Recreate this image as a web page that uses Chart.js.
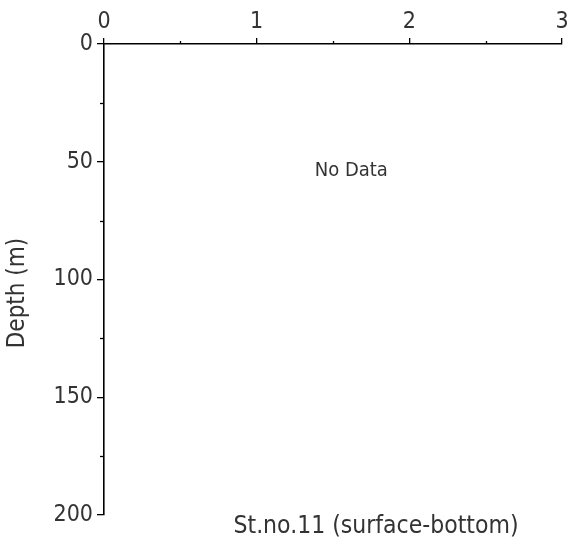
<!DOCTYPE html>
<html>
<head>
<meta charset="utf-8">
<script src="https://cdn.jsdelivr.net/npm/chart.js@4/dist/chart.umd.min.js"></script>
<style>
html,body{margin:0;padding:0;background:#fff;}
#wrap{width:571px;height:546px;position:relative;}
</style>
</head>
<body>
<div id="wrap"><canvas id="c" width="571" height="546"></canvas></div>
<script>
// Data (station has no observations)
const depthValues = [];       // depth (m)
const measuredValues = [];    // measured values
const xMajorTicks = [0, 1, 2, 3];
const xMinorTicks = [0.5, 1.5, 2.5];
const yMajorTicks = [0, 50, 100, 150, 200];
const yMinorTicks = [25, 75, 125, 175];
const stationTitle = 'St.no.11 (surface-bottom)';
const noDataText = 'No Data';
const yAxisTitle = 'Depth (m)';

const FONT = "'DejaVu Sans Condensed', 'DejaVu Sans', Tahoma, sans-serif";
const TXT = '#333333';

const points = measuredValues.map((v, i) => ({x: v, y: depthValues[i]}));

const extras = {
  id: 'extras',
  afterDraw(chart) {
    const ctx = chart.ctx;
    const xs = chart.scales.x, ys = chart.scales.y;
    const a = chart.chartArea;
    ctx.save();
    ctx.strokeStyle = '#000';
    ctx.lineWidth = 1.3;
    // minor ticks
    xMinorTicks.forEach(v => {
      const px = Math.round(xs.getPixelForValue(v)) + 0.5;
      ctx.beginPath(); ctx.moveTo(px, a.top); ctx.lineTo(px, a.top - 3); ctx.stroke();
    });
    yMinorTicks.forEach(v => {
      const py = Math.round(ys.getPixelForValue(v)) + 0.5;
      ctx.beginPath(); ctx.moveTo(a.left, py); ctx.lineTo(a.left - 4, py); ctx.stroke();
    });
    ctx.fillStyle = TXT;
    ctx.textAlign = 'center';
    ctx.textBaseline = 'middle';
    // No Data text
    ctx.font = "20px " + FONT;
    ctx.fillText(noDataText, xs.getPixelForValue(1.62), ys.getPixelForValue(54));
    // station title
    ctx.font = "24.5px " + FONT;
    ctx.fillText(stationTitle, 376, 527);
    // y axis title
    ctx.save();
    ctx.translate(18, 293);
    ctx.rotate(-Math.PI / 2);
    ctx.font = "24px " + FONT;
    ctx.fillText(yAxisTitle, 0, 0);
    ctx.restore();
    ctx.restore();
  }
};

new Chart(document.getElementById('c'), {
  type: 'scatter',
  data: { datasets: [{ data: points, showLine: true, borderColor: '#000', pointRadius: 0 }] },
  options: {
    responsive: false,
    animation: false,
    devicePixelRatio: 1,
    layout: { padding: { left: 0, right: 9, top: 0, bottom: 31 } },
    plugins: { legend: { display: false }, tooltip: { enabled: false } },
    scales: {
      x: {
        type: 'linear', position: 'top', min: 0, max: 3,
        afterBuildTicks: s => { s.ticks = xMajorTicks.map(v => ({value: v})); },
        afterFit: s => { s.height = 44; },
        grid: { drawOnChartArea: false, drawTicks: true, tickLength: 6, color: '#000', lineWidth: 1.3 },
        border: { display: true, color: '#000', width: 1.6 },
        ticks: { color: TXT, font: { family: FONT, size: 23 }, padding: 2, maxRotation: 0 }
      },
      y: {
        type: 'linear', reverse: true, min: 0, max: 200,
        afterBuildTicks: s => { s.ticks = yMajorTicks.map(v => ({value: v})); },
        afterFit: s => { s.width = 104; },
        grid: { drawOnChartArea: false, drawTicks: true, tickLength: 7, color: '#000', lineWidth: 1.3 },
        border: { display: true, color: '#000', width: 1.6 },
        title: { display: false },
        ticks: { color: TXT, font: { family: FONT, size: 23 }, padding: 4 }
      }
    }
  },
  plugins: [extras]
});
</script>
</body>
</html>
